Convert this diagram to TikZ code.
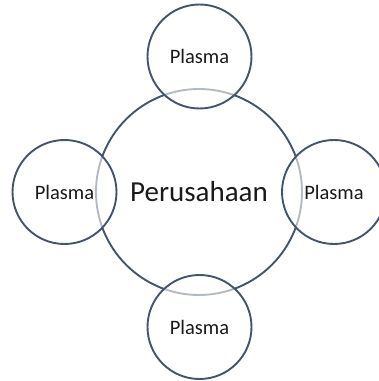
\documentclass[tikz,border=0pt]{standalone}
\usepackage{fontspec}
\setmainfont{Carlito}
\definecolor{ring}{HTML}{44546A}
\definecolor{txt}{HTML}{1A1A1A}
\begin{document}
\begin{tikzpicture}[x=1pt,y=1pt,
  bigc/.style={circle,draw=ring,line width=1.9pt,minimum size=206pt,inner sep=0pt,
    font=\fontsize{29}{32}\selectfont,text=txt},
  smallc/.style={circle,draw=ring,line width=1.9pt,minimum size=104pt,inner sep=0pt,
    fill=white,fill opacity=0.6,text opacity=1,draw opacity=1,
    font=\fontsize{20.5}{24}\selectfont,text=txt}]
\useasboundingbox (0,0) rectangle (379,381);
\node[bigc] (pe) at (199,189) {Perusahaan};
\node[smallc] (top) at (199.5,324.5) {Plasma};
\node[smallc] (left) at (64.5,189) {Plasma};
\node[smallc] (right) at (334,189) {Plasma};
\node[smallc] (bot) at (199.5,54) {Plasma};
\end{tikzpicture}
\end{document}
